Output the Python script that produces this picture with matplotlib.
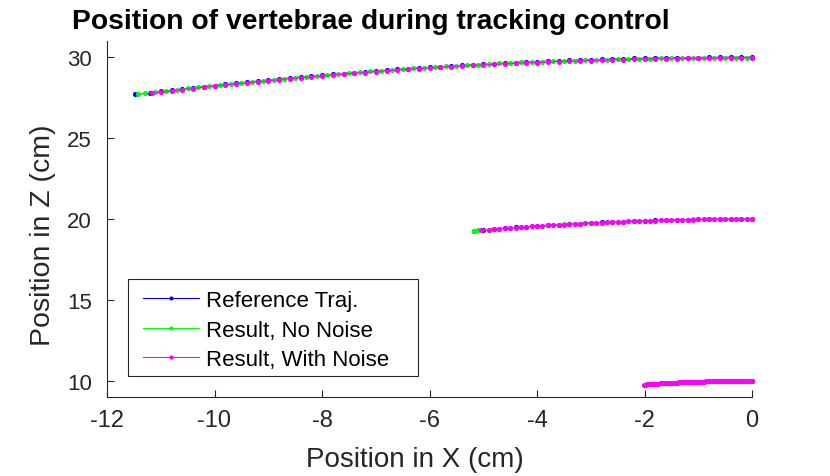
import matplotlib
matplotlib.use("Agg")
import matplotlib.pyplot as plt
from matplotlib.patches import Rectangle

plt.rcParams['font.family'] = ['Liberation Sans', 'DejaVu Sans']
plt.rcParams['axes.unicode_minus'] = False

# ---- data (cm) ----
# top vertebra
ref_x_top = [-11.47, -11.2, -11.0, -10.8, -10.6, -10.4, -10.2, -10.0, -9.8, -9.6, -9.4, -9.2, -9.0, -8.8,
             -8.6, -8.4, -8.2, -8.0, -7.8, -7.6, -7.4, -7.2, -7.0, -6.8, -6.6, -6.4, -6.2, -6.0, -5.8,
             -5.6, -5.4, -5.2, -5.0, -4.8, -4.6, -4.4, -4.2, -4.0, -3.8, -3.6, -3.4, -3.2, -3.0, -2.8,
             -2.6, -2.4, -2.2, -2.0, -1.8, -1.6, -1.4, -1.2, -1.0, -0.8, -0.6, -0.4, -0.2, 0.0]
ref_z_top = [27.70, 27.80, 27.88, 27.96, 28.03, 28.11, 28.18, 28.25, 28.32, 28.39, 28.45, 28.52, 28.58, 28.64,
             28.71, 28.77, 28.82, 28.88, 28.94, 28.99, 29.04, 29.09, 29.14, 29.19, 29.24, 29.28, 29.33, 29.37, 29.41,
             29.45, 29.49, 29.53, 29.56, 29.60, 29.63, 29.66, 29.69, 29.72, 29.75, 29.77, 29.80, 29.82, 29.84, 29.86,
             29.88, 29.90, 29.92, 29.93, 29.94, 29.96, 29.97, 29.97, 29.98, 29.99, 29.99, 30.00, 30.00, 30.00]

nn_x_top = [-11.43, -11.3, -11.1, -10.9, -10.7, -10.5, -10.3, -10.1, -9.9, -9.7, -9.5, -9.3, -9.1, -8.9,
            -8.7, -8.5, -8.3, -8.1, -7.9, -7.7, -7.5, -7.3, -7.1, -6.9, -6.7, -6.5, -6.3, -6.1, -5.9,
            -5.7, -5.5, -5.3, -5.1, -4.9, -4.7, -4.5, -4.3, -4.1, -3.9, -3.7, -3.5, -3.3, -3.1, -2.9,
            -2.7, -2.5, -2.3, -2.1, -1.9, -1.7, -1.5, -1.3, -1.1, -0.9, -0.7, -0.5, -0.3, -0.1, 0.0]
nn_z_top = [27.71, 27.77, 27.84, 27.92, 28.00, 28.07, 28.14, 28.21, 28.28, 28.35, 28.42, 28.49, 28.55, 28.61,
            28.68, 28.74, 28.79, 28.85, 28.91, 28.96, 29.02, 29.07, 29.12, 29.17, 29.21, 29.26, 29.31, 29.35, 29.39,
            29.43, 29.47, 29.51, 29.54, 29.58, 29.61, 29.65, 29.68, 29.70, 29.72, 29.75, 29.77, 29.79, 29.81, 29.83,
            29.85, 29.86, 29.88, 29.89, 29.91, 29.92, 29.93, 29.94, 29.95, 29.95, 29.96, 29.96, 29.97, 29.97, 29.97]

wn_x_top = [-11.16, -11.0, -10.8, -10.6, -10.4, -10.2, -10.0, -9.8, -9.6, -9.4, -9.2, -9.0, -8.8, -8.6,
            -8.4, -8.2, -8.0, -7.8, -7.6, -7.4, -7.2, -7.0, -6.8, -6.6, -6.4, -6.2, -6.0, -5.8, -5.6,
            -5.4, -5.2, -5.0, -4.8, -4.6, -4.4, -4.2, -4.0, -3.8, -3.6, -3.4, -3.2, -3.0, -2.8, -2.6,
            -2.4, -2.2, -2.0, -1.8, -1.6, -1.4, -1.2, -1.0, -0.8, -0.6, -0.4, -0.2, 0.0]
wn_z_top = [27.76, 27.83, 27.91, 27.99, 28.06, 28.14, 28.21, 28.28, 28.35, 28.41, 28.48, 28.54, 28.61, 28.67,
            28.73, 28.79, 28.84, 28.90, 28.96, 29.01, 29.05, 29.11, 29.16, 29.20, 29.25, 29.30, 29.34, 29.38, 29.42,
            29.45, 29.49, 29.52, 29.56, 29.59, 29.62, 29.65, 29.67, 29.70, 29.73, 29.75, 29.77, 29.79, 29.81, 29.83,
            29.85, 29.86, 29.88, 29.89, 29.90, 29.91, 29.92, 29.93, 29.93, 29.94, 29.95, 29.95, 29.96]

# middle vertebra
ref_x_mid = [-5.17, -5.0, -4.8, -4.6, -4.4, -4.2, -4.0, -3.8, -3.6, -3.4, -3.2, -3.0, -2.8, -2.6,
             -2.4, -2.2, -2.0, -1.8, -1.6, -1.4, -1.2, -1.0, -0.8, -0.6, -0.4, -0.2, 0.0]
ref_z_mid = [19.28, 19.33, 19.38, 19.43, 19.48, 19.52, 19.57, 19.61, 19.65, 19.69, 19.72, 19.76, 19.79, 19.82,
             19.84, 19.87, 19.89, 19.91, 19.93, 19.95, 19.96, 19.97, 19.98, 19.99, 20.00, 20.00, 20.00]

nn_x_mid = [-5.17, -5.1, -4.9, -4.7, -4.5, -4.3, -4.1, -3.9, -3.7, -3.5, -3.3, -3.1, -2.9, -2.7,
            -2.5, -2.3, -2.1, -1.9, -1.7, -1.5, -1.3, -1.1, -0.9, -0.7, -0.5, -0.3, -0.1, 0.0]
nn_z_mid = [19.28, 19.30, 19.35, 19.40, 19.45, 19.50, 19.55, 19.59, 19.63, 19.67, 19.71, 19.74, 19.77, 19.80,
            19.83, 19.86, 19.88, 19.90, 19.92, 19.94, 19.95, 19.97, 19.98, 19.99, 19.99, 20.00, 20.00, 20.00]

wn_x_mid = [-5.05, -4.9, -4.8, -4.7, -4.6, -4.5, -4.4, -4.3, -4.2, -4.1, -4.0, -3.9, -3.8, -3.7, -3.6,
            -3.5, -3.4, -3.3, -3.2, -3.1, -3.0, -2.9, -2.8, -2.7, -2.6, -2.5, -2.4, -2.3, -2.2, -2.1,
            -2.0, -1.9, -1.8, -1.7, -1.6, -1.5, -1.4, -1.3, -1.2, -1.1, -1.0, -0.9, -0.8, -0.7, -0.6,
            -0.5, -0.4, -0.3, -0.2, -0.1, 0.0]
wn_z_mid = [19.30, 19.34, 19.37, 19.40, 19.42, 19.45, 19.47, 19.50, 19.52, 19.54, 19.57, 19.59, 19.61, 19.63, 19.65,
            19.66, 19.68, 19.70, 19.72, 19.73, 19.75, 19.77, 19.78, 19.80, 19.81, 19.82, 19.84, 19.85, 19.86, 19.87,
            19.89, 19.90, 19.90, 19.92, 19.92, 19.93, 19.94, 19.95, 19.95, 19.96, 19.97, 19.97, 19.98, 19.98, 19.99,
            19.99, 19.99, 20.00, 20.00, 20.00, 20.00]

# bottom vertebra
ref_x_bot = [-2.0, -1.9, -1.8, -1.7, -1.6, -1.5, -1.4, -1.3, -1.2, -1.1, -1.0,
             -0.9, -0.8, -0.7, -0.6, -0.5, -0.4, -0.3, -0.2, -0.1, 0.0]
ref_z_bot = [9.77, 9.79, 9.82, 9.84, 9.85, 9.87, 9.89, 9.90, 9.92, 9.93, 9.94,
             9.95, 9.96, 9.97, 9.98, 9.99, 9.99, 9.99, 10.00, 10.00, 10.00]

nn_x_bot = [-1.95, -1.85, -1.75, -1.65, -1.55, -1.45, -1.35, -1.25, -1.15, -1.05, -0.95,
            -0.85, -0.75, -0.65, -0.55, -0.45, -0.35, -0.25, -0.15, -0.05, 0.0]
nn_z_bot = [9.78, 9.80, 9.83, 9.84, 9.86, 9.88, 9.90, 9.91, 9.92, 9.94, 9.95,
            9.96, 9.97, 9.98, 9.98, 9.99, 9.99, 10.00, 10.00, 10.00, 10.00]

wn_x_bot = [-2.01, -1.95, -1.9, -1.85, -1.8, -1.75, -1.7, -1.65, -1.6, -1.55, -1.5, -1.45, -1.4, -1.35,
            -1.3, -1.25, -1.2, -1.15, -1.1, -1.05, -1.0, -0.95, -0.9, -0.85, -0.8, -0.75, -0.7, -0.65,
            -0.6, -0.55, -0.5, -0.45, -0.4, -0.35, -0.3, -0.25, -0.2, -0.15, -0.1, -0.05, 0.0]
wn_z_bot = [9.77, 9.78, 9.79, 9.80, 9.81, 9.83, 9.84, 9.84, 9.85, 9.86, 9.87, 9.88, 9.89, 9.90,
            9.90, 9.91, 9.92, 9.92, 9.93, 9.94, 9.94, 9.95, 9.95, 9.96, 9.96, 9.97, 9.97, 9.98,
            9.98, 9.98, 9.99, 9.99, 9.99, 9.99, 9.99, 10.00, 10.00, 10.00, 10.00, 10.00, 10.00]

labels = ['Reference Traj.', 'Result, No Noise', 'Result, With Noise']
colors = ['#0000ff', '#00ff00', '#ff00ff']

series = [
    [(ref_x_top, ref_z_top), (ref_x_mid, ref_z_mid), (ref_x_bot, ref_z_bot)],
    [(nn_x_top, nn_z_top), (nn_x_mid, nn_z_mid), (nn_x_bot, nn_z_bot)],
    [(wn_x_top, wn_z_top), (wn_x_mid, wn_z_mid), (wn_x_bot, wn_z_bot)],
]

W, H = 830, 477
fig = plt.figure(figsize=(8.3, 4.77), dpi=100)
ax = fig.add_axes([107/W, 1 - 398/H, 645/W, 356/H])

handles = []
for k in range(3):
    for j, (xs, zs) in enumerate(series[k]):
        ln, = ax.plot(xs, zs, color=colors[k], lw=0.8, marker='o', ms=3.7,
                      mec='none', clip_on=False)
        if j == 0:
            handles.append(ln)

ax.set_xlim(-12, 0)
ax.set_ylim(9, 31)
ax.set_xticks([-12, -10, -8, -6, -4, -2, 0])
ax.set_yticks([10, 15, 20, 25, 30])

axcol = '#262626'
for s in ['top', 'right']:
    ax.spines[s].set_visible(False)
for s in ['left', 'bottom']:
    ax.spines[s].set_color(axcol)
    ax.spines[s].set_linewidth(0.8)
ax.tick_params(direction='in', length=5, width=0.8, color=axcol, labelcolor=axcol)
ax.tick_params(axis='y', pad=11, labelsize=16)
ax.tick_params(axis='x', pad=9, labelsize=17)

fig.text(415/W, 1 - 467/H, 'Position in X (cm)', fontsize=20, color=axcol,
         ha='center', va='baseline')
fig.text(50/W, 1 - 235/H, 'Position in Z (cm)', fontsize=20.5, color=axcol,
         rotation=90, rotation_mode='anchor', ha='center', va='baseline')
fig.text(72/W, 1 - 29/H, 'Position of vertebrae during tracking control',
         fontsize=20.3, fontweight='bold', ha='left', va='baseline')

# legend: entries placed by matplotlib, box drawn to match the reference
leg = ax.legend(handles, labels, loc='center left',
                bbox_to_anchor=((143 - 107)/645, (398 - 331)/356),
                borderaxespad=0, borderpad=0, fontsize=16, numpoints=1,
                handlelength=2.52, handletextpad=0.32, labelspacing=0.38,
                frameon=False)
leg.set_zorder(6)
for h in leg.legend_handles:
    h.set_markersize(3)
ax.add_patch(Rectangle((128/W, 1 - 377/H), 290/W, 97/H, transform=fig.transFigure,
                       facecolor='white', edgecolor=axcol, lw=0.8, zorder=5.5,
                       clip_on=False))

fig.savefig('out.png', dpi=100)
